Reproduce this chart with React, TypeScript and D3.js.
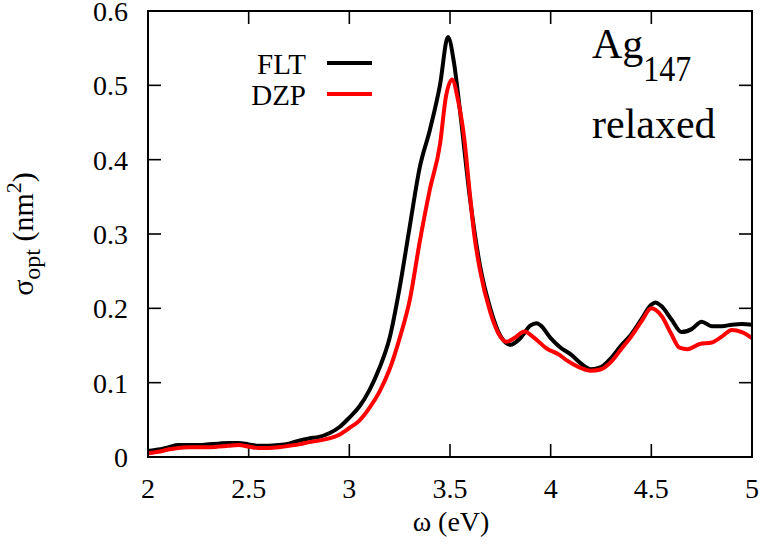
import React, { useEffect, useRef } from 'react';
import * as d3 from 'd3';

// energies (eV) and optical cross-sections (nm^2)
const fltOmega = [2.0, 2.05, 2.1, 2.15, 2.2, 2.25, 2.3, 2.35, 2.4, 2.45, 2.5, 2.55, 2.6, 2.65, 2.7, 2.75, 2.8, 2.85, 2.9, 2.95,
  3.0, 3.05, 3.1, 3.15, 3.2, 3.25, 3.3, 3.35, 3.4, 3.45, 3.49, 3.52, 3.55, 3.6, 3.65, 3.7, 3.75, 3.8, 3.85, 3.9, 3.93, 3.95,
  4.0, 4.05, 4.1, 4.15, 4.2, 4.25, 4.3, 4.35, 4.4, 4.45, 4.5, 4.52, 4.55, 4.6, 4.65, 4.7, 4.75, 4.8, 4.85, 4.9, 4.95, 5.0];
const fltSigma = [0.008, 0.01, 0.013, 0.016, 0.016, 0.016, 0.017, 0.018, 0.019, 0.019, 0.017, 0.015, 0.015, 0.016, 0.018, 0.022, 0.025, 0.027, 0.032, 0.04,
  0.053, 0.068, 0.09, 0.12, 0.16, 0.228, 0.31, 0.39, 0.44, 0.5, 0.565, 0.53, 0.465, 0.346, 0.256, 0.2, 0.163, 0.151, 0.16, 0.177, 0.18, 0.177,
  0.16, 0.147, 0.138, 0.126, 0.118, 0.121, 0.133, 0.15, 0.165, 0.185, 0.205, 0.208, 0.203, 0.185, 0.168, 0.172, 0.182, 0.176, 0.176, 0.178, 0.179, 0.178];

const dzpOmega = [2.0, 2.05, 2.1, 2.15, 2.2, 2.25, 2.3, 2.35, 2.4, 2.45, 2.5, 2.55, 2.6, 2.65, 2.7, 2.75, 2.8, 2.85, 2.9, 2.95,
  3.0, 3.05, 3.1, 3.15, 3.2, 3.25, 3.3, 3.35, 3.4, 3.45, 3.48, 3.51, 3.54, 3.57, 3.6, 3.62, 3.65, 3.7, 3.75, 3.78, 3.82, 3.87, 3.92,
  3.98, 4.04, 4.08, 4.14, 4.2, 4.25, 4.3, 4.35, 4.4, 4.45, 4.5, 4.55, 4.6, 4.64, 4.68, 4.74, 4.8, 4.85, 4.9, 4.95, 5.0];
const dzpSigma = [0.005, 0.007, 0.01, 0.012, 0.013, 0.013, 0.013, 0.014, 0.015, 0.016, 0.014, 0.012, 0.012, 0.013, 0.015, 0.017, 0.02, 0.022, 0.025, 0.03,
  0.039, 0.049, 0.066, 0.088, 0.118, 0.16, 0.211, 0.29, 0.36, 0.42, 0.485, 0.508, 0.48, 0.43, 0.35, 0.3, 0.25, 0.195, 0.162, 0.155, 0.16, 0.169, 0.16,
  0.146, 0.138, 0.13, 0.121, 0.116, 0.118, 0.128, 0.145, 0.162, 0.182, 0.2, 0.19, 0.165, 0.147, 0.145, 0.152, 0.154, 0.162, 0.171, 0.168, 0.16];

const xTicks = [2, 2.5, 3, 3.5, 4, 4.5, 5];
const yTicks = [0, 0.1, 0.2, 0.3, 0.4, 0.5, 0.6];

const series = [
  { name: 'FLT', color: '#000000', omega: fltOmega, sigma: fltSigma },
  { name: 'DZP', color: '#ff0000', omega: dzpOmega, sigma: dzpSigma },
];

const App = () => {
  const ref = useRef<SVGSVGElement>(null);

  useEffect(() => {
    const width = 763;
    const height = 553;
    const left = 148, right = 752, top = 11, bottom = 457;
    const font = 'Liberation Serif, DejaVu Serif, Tinos, Times, serif';

    const x = d3.scaleLinear().domain([2, 5]).range([left, right]);
    const y = d3.scaleLinear().domain([0, 0.6]).range([bottom, top]);

    const svg = d3.select(ref.current)
      .attr('width', width)
      .attr('height', height)
      .style('font-family', font);

    svg.selectAll('*').remove();

    const tickLen = 13;

    // ticks, mirrored on all four sides
    const ticks = svg.append('g').attr('stroke', '#000').attr('stroke-width', 1.6);
    xTicks.slice(1, -1).forEach(t => {
      ticks.append('line').attr('x1', x(t)).attr('x2', x(t)).attr('y1', bottom).attr('y2', bottom - tickLen);
      ticks.append('line').attr('x1', x(t)).attr('x2', x(t)).attr('y1', top).attr('y2', top + tickLen);
    });
    yTicks.slice(1, -1).forEach(t => {
      ticks.append('line').attr('x1', left).attr('x2', left + tickLen).attr('y1', y(t)).attr('y2', y(t));
      ticks.append('line').attr('x1', right).attr('x2', right - tickLen).attr('y1', y(t)).attr('y2', y(t));
    });

    // tick labels
    svg.append('g')
      .attr('font-size', 28)
      .attr('text-anchor', 'middle')
      .selectAll('text')
      .data(xTicks)
      .join('text')
      .attr('x', d => x(d))
      .attr('y', 498)
      .text(d => String(d));

    svg.append('g')
      .attr('font-size', 28)
      .attr('text-anchor', 'end')
      .selectAll('text')
      .data(yTicks)
      .join('text')
      .attr('x', 128)
      .attr('y', d => y(d) + 10)
      .text(d => (d === 0 ? '0' : d.toFixed(1)));

    // curves
    const line = d3.line<[number, number]>()
      .x(d => x(d[0]))
      .y(d => y(d[1]))
      .curve(d3.curveMonotoneX);

    const plot = svg.append('g');
    series.forEach(s => {
      const pts = s.omega.map((w, i) => [w, s.sigma[i]] as [number, number]);
      plot.append('path')
        .attr('d', line(pts))
        .attr('fill', 'none')
        .attr('stroke', s.color)
        .attr('stroke-width', 4)
        .attr('stroke-linejoin', 'round');
    });

    // frame
    svg.append('rect')
      .attr('x', left).attr('y', top)
      .attr('width', right - left).attr('height', bottom - top)
      .attr('fill', 'none').attr('stroke', '#000').attr('stroke-width', 2);

    // legend
    const legend = svg.append('g').attr('font-size', 29);
    series.forEach((s, i) => {
      const ly = 63 + i * 31;
      legend.append('text')
        .attr('x', 306).attr('y', ly + 11)
        .attr('text-anchor', 'end')
        .text(s.name);
      legend.append('line')
        .attr('x1', 327).attr('x2', 372)
        .attr('y1', ly).attr('y2', ly)
        .attr('stroke', s.color).attr('stroke-width', 4);
    });

    // annotation
    const ag = svg.append('text').attr('x', 592).attr('y', 58).attr('font-size', 42);
    ag.append('tspan').text('Ag');
    ag.append('tspan')
      .attr('y', 81)
      .attr('font-size', 36)
      .attr('textLength', 48)
      .attr('lengthAdjust', 'spacingAndGlyphs')
      .text('147');
    svg.append('text').attr('x', 592).attr('y', 138).attr('font-size', 42).text('relaxed');

    // axis titles
    svg.append('text')
      .attr('x', 451).attr('y', 531)
      .attr('font-size', 28)
      .attr('text-anchor', 'middle')
      .text('ω (eV)');

    const yl = svg.append('text')
      .attr('transform', 'translate(33,234) rotate(-90)')
      .attr('font-size', 30)
      .attr('text-anchor', 'middle');
    yl.append('tspan').text('σ');
    yl.append('tspan').attr('dy', 7).attr('font-size', 24).text('opt');
    yl.append('tspan').attr('dy', -7).text(' (nm');
    yl.append('tspan').attr('dy', -12).attr('font-size', 22).text('2');
    yl.append('tspan').attr('dy', 12).text(')');
  }, []);

  return (
    <div style={{ position: 'absolute', left: 0, top: 0 }}>
      <svg ref={ref} style={{ display: 'block', background: '#fff' }} />
    </div>
  );
};

export default App;
